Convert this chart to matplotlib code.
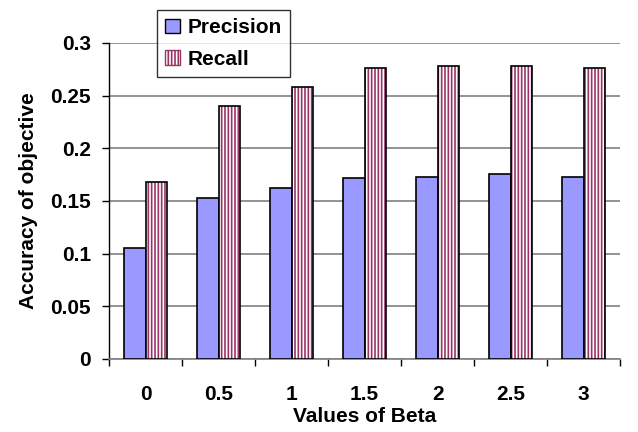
import numpy as np
import matplotlib
matplotlib.use("Agg")
import matplotlib.pyplot as plt
from matplotlib.patches import Patch

# 数据
betas = ["0", "0.5", "1", "1.5", "2", "2.5", "3"]
precision = [0.105, 0.153, 0.162, 0.172, 0.173, 0.176, 0.173]
recall = [0.168, 0.240, 0.258, 0.276, 0.278, 0.278, 0.276]
yticks = [0, 0.05, 0.1, 0.15, 0.2, 0.25, 0.3]
ytick_labels = ["0", "0.05", "0.1", "0.15", "0.2", "0.25", "0.3"]

prec_color = "#9999FF"
rec_color = "#993366"

plt.rcParams['font.family'] = ['Liberation Sans', 'DejaVu Sans']
plt.rcParams['font.weight'] = 'bold'
plt.rcParams['axes.labelweight'] = 'bold'
plt.rcParams['hatch.linewidth'] = 1.2

fs = 15

fig = plt.figure(figsize=(6.38, 4.32), dpi=100)
ax = fig.add_axes([0.171, 0.169, 0.801, 0.7315])

x = np.arange(len(betas))
w = 0.29

ax.bar(x - w / 2, precision, w, color=prec_color, edgecolor="black", linewidth=1.2, zorder=3)
# 竖条纹填充，再单独画黑边框
ax.bar(x + w / 2, recall, w, color="white", edgecolor=rec_color, hatch="|||||", linewidth=0, zorder=3)
ax.bar(x + w / 2, recall, w, fill=False, edgecolor="black", linewidth=1.2, zorder=4)

ax.set_xlim(-0.5, len(betas) - 0.5)
ax.set_ylim(0, 0.3)
ax.set_yticks(yticks)
ax.set_yticklabels(ytick_labels)
ax.set_xticks(x)
ax.set_xticklabels(betas)
ax.set_xticks(np.arange(-0.5, len(betas), 1), minor=True)
ax.tick_params(axis="x", which="major", length=0, pad=19, labelsize=fs)
ax.tick_params(axis="x", which="minor", length=5, width=1, direction="out")
ax.tick_params(axis="y", length=5, width=1, direction="out", pad=8, labelsize=fs)

ax.grid(axis="y", color="#808080", linewidth=1.2, zorder=0)
for s in ["top", "right"]:
    ax.spines[s].set_visible(False)
ax.spines["left"].set_linewidth(1)
ax.spines["bottom"].set_color("#808080")
ax.spines["bottom"].set_linewidth(1.2)

ax.set_xlabel("Values of Beta", fontsize=fs, labelpad=2)
ax.set_ylabel("Accuracy of objective", fontsize=fs, labelpad=9)

handles = [
    Patch(facecolor=prec_color, edgecolor="black", linewidth=1),
    Patch(facecolor="white", edgecolor=rec_color, hatch="|||||", linewidth=1),
]
leg = fig.legend(handles, ["Precision", "Recall"], loc="upper left",
                 bbox_to_anchor=(157 / 638, 1 - 10 / 432),
                 prop={"size": fs, "weight": "bold"}, frameon=True, fancybox=False,
                 edgecolor="black", handlelength=0.7, handleheight=0.7,
                 handletextpad=0.35, borderpad=0.4, labelspacing=0.6,
                 borderaxespad=0)
leg.get_frame().set_linewidth(1)

fig.savefig("out.png", dpi=100)
